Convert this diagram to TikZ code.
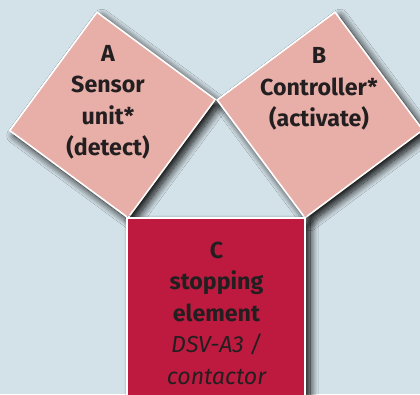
\documentclass[tikz,border=0pt]{standalone}
\usepackage{fontspec}
\setmainfont{Fira Sans}
\usetikzlibrary{shadows.blur}
\definecolor{bg}{HTML}{D3E1E8}
\definecolor{pinkbox}{HTML}{E8AFA8}
\definecolor{redbox}{HTML}{BE1A3F}
\definecolor{ink}{HTML}{231F20}
\tikzset{
  sq/.style={rectangle, draw=white, line width=1.6pt, inner sep=0pt, outer sep=0pt,
    blur shadow={shadow xshift=5pt, shadow yshift=-5pt, shadow blur radius=8pt,
      shadow opacity=100, shadow blur steps=14}},
  pinksq/.style={sq, fill=pinkbox, minimum size=147pt},
  redsq/.style={sq, fill=redbox, minimum size=178pt},
  lbl/.style={align=center, text=ink, font=\fontsize{23.2}{31.5}\selectfont\bfseries, inner sep=0pt, anchor=base}
}
\begin{document}
\begin{tikzpicture}[x=1pt,y=1pt]
\useasboundingbox (0,0) rectangle (420,394);
\fill[bg] (0,0) rectangle (420,394);
\node[pinksq, rotate=53.6] (Abox) at (112.5,279) {};
\node[pinksq, rotate=36.7] (Bbox) at (320,279) {};
\node[redsq] (Cbox) at (216,87) {};
\node[lbl] (A) at (108,238) {A\\Sensor\\unit*\\(detect)};
\node[lbl] (B) at (319,267) {B\\Controller*\\(activate)};
\node[lbl] (C) at (216.5,10) {C\\stopping\\element\\{\mdseries\itshape DSV-A3 /}\\{\mdseries\itshape contactor}};
\end{tikzpicture}
\end{document}
